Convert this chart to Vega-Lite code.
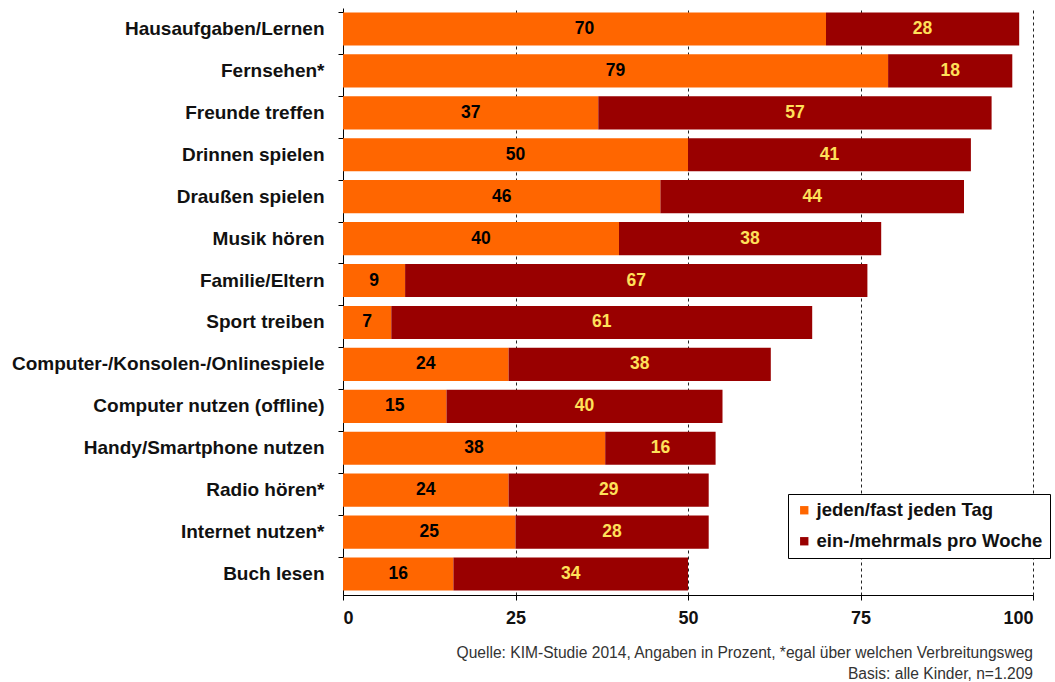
{
  "$schema": "https://vega.github.io/schema/vega-lite/v6.json",
  "autosize": "none",
  "padding": {"left": 343, "top": 8, "right": 22, "bottom": 87},
  "width": 690,
  "height": 587,
  "background": "white",
  "config": {
    "font": "Liberation Sans",
    "view": {"stroke": null}
  },
  "title": {
    "text": ["Quelle: KIM-Studie 2014, Angaben in Prozent, *egal über welchen Verbreitungsweg", "Basis: alle Kinder, n=1.209"],
    "orient": "bottom",
    "anchor": "end",
    "frame": "group",
    "fontSize": 15.6,
    "fontWeight": "normal",
    "color": "#333333",
    "lineHeight": 21,
    "offset": 19
  },
  "data": {
    "values": [
      {"cat": "Hausaufgaben/Lernen", "type": "jeden/fast jeden Tag", "value": 70},
      {"cat": "Hausaufgaben/Lernen", "type": "ein-/mehrmals pro Woche", "value": 28},
      {"cat": "Fernsehen*", "type": "jeden/fast jeden Tag", "value": 79},
      {"cat": "Fernsehen*", "type": "ein-/mehrmals pro Woche", "value": 18},
      {"cat": "Freunde treffen", "type": "jeden/fast jeden Tag", "value": 37},
      {"cat": "Freunde treffen", "type": "ein-/mehrmals pro Woche", "value": 57},
      {"cat": "Drinnen spielen", "type": "jeden/fast jeden Tag", "value": 50},
      {"cat": "Drinnen spielen", "type": "ein-/mehrmals pro Woche", "value": 41},
      {"cat": "Draußen spielen", "type": "jeden/fast jeden Tag", "value": 46},
      {"cat": "Draußen spielen", "type": "ein-/mehrmals pro Woche", "value": 44},
      {"cat": "Musik hören", "type": "jeden/fast jeden Tag", "value": 40},
      {"cat": "Musik hören", "type": "ein-/mehrmals pro Woche", "value": 38},
      {"cat": "Familie/Eltern", "type": "jeden/fast jeden Tag", "value": 9},
      {"cat": "Familie/Eltern", "type": "ein-/mehrmals pro Woche", "value": 67},
      {"cat": "Sport treiben", "type": "jeden/fast jeden Tag", "value": 7},
      {"cat": "Sport treiben", "type": "ein-/mehrmals pro Woche", "value": 61},
      {"cat": "Computer-/Konsolen-/Onlinespiele", "type": "jeden/fast jeden Tag", "value": 24},
      {"cat": "Computer-/Konsolen-/Onlinespiele", "type": "ein-/mehrmals pro Woche", "value": 38},
      {"cat": "Computer nutzen (offline)", "type": "jeden/fast jeden Tag", "value": 15},
      {"cat": "Computer nutzen (offline)", "type": "ein-/mehrmals pro Woche", "value": 40},
      {"cat": "Handy/Smartphone nutzen", "type": "jeden/fast jeden Tag", "value": 38},
      {"cat": "Handy/Smartphone nutzen", "type": "ein-/mehrmals pro Woche", "value": 16},
      {"cat": "Radio hören*", "type": "jeden/fast jeden Tag", "value": 24},
      {"cat": "Radio hören*", "type": "ein-/mehrmals pro Woche", "value": 29},
      {"cat": "Internet nutzen*", "type": "jeden/fast jeden Tag", "value": 25},
      {"cat": "Internet nutzen*", "type": "ein-/mehrmals pro Woche", "value": 28},
      {"cat": "Buch lesen", "type": "jeden/fast jeden Tag", "value": 16},
      {"cat": "Buch lesen", "type": "ein-/mehrmals pro Woche", "value": 34}
    ]
  },
  "encoding": {
    "y": {
      "field": "cat",
      "type": "nominal",
      "sort": null,
      "scale": {"paddingInner": 0.21, "paddingOuter": 0.105},
      "axis": {
        "title": null,
        "domainColor": "#000000",
        "tickColor": "#000000",
        "tickSize": 5,
        "bandPosition": 0,
        "labelFontSize": 19,
        "labelFontWeight": "bold",
        "labelColor": "#111111",
        "labelPadding": 14,
        "labelLimit": 400
      }
    },
    "order": {"field": "type", "sort": "descending"}
  },
  "layer": [
    {
      "mark": {"type": "bar"},
      "encoding": {
        "x": {
          "field": "value",
          "type": "quantitative",
          "stack": "zero",
          "scale": {"domain": [0, 100], "nice": false},
          "axis": {
            "title": null,
            "values": [0, 25, 50, 75, 100],
            "grid": true,
            "gridColor": "#222222",
            "gridDash": [3, 3],
            "gridWidth": 1,
            "domainColor": "#000000",
            "tickColor": "#000000",
            "tickSize": 5,
            "labelFontSize": 18,
            "labelFontWeight": "bold",
            "labelColor": "#111111",
            "labelPadding": 9
          }
        },
        "color": {
          "field": "type",
          "type": "nominal",
          "scale": {"domain": ["jeden/fast jeden Tag", "ein-/mehrmals pro Woche"], "range": ["#FF6600", "#990000"]},
          "legend": {
            "title": null,
            "orient": "none",
            "legendX": 445,
            "legendY": 486,
            "fillColor": "white",
            "strokeColor": "#000000",
            "padding": 7,
            "symbolType": "square",
            "symbolSize": 70,
            "symbolStrokeWidth": 0,
            "labelFontSize": 18.5,
            "labelFontWeight": "bold",
            "labelColor": "#111111",
            "labelOffset": 3,
            "rowPadding": 12,
            "labelLimit": 300
          }
        }
      }
    },
    {
      "mark": {"type": "text", "fontSize": 17.5, "fontWeight": "bold"},
      "encoding": {
        "x": {"field": "value", "type": "quantitative", "stack": "zero", "bandPosition": 0.5},
        "text": {"field": "value", "type": "quantitative"},
        "color": {
          "condition": {"test": "datum.type === 'ein-/mehrmals pro Woche'", "value": "#FFE15A"},
          "value": "#000000"
        }
      }
    }
  ]
}
